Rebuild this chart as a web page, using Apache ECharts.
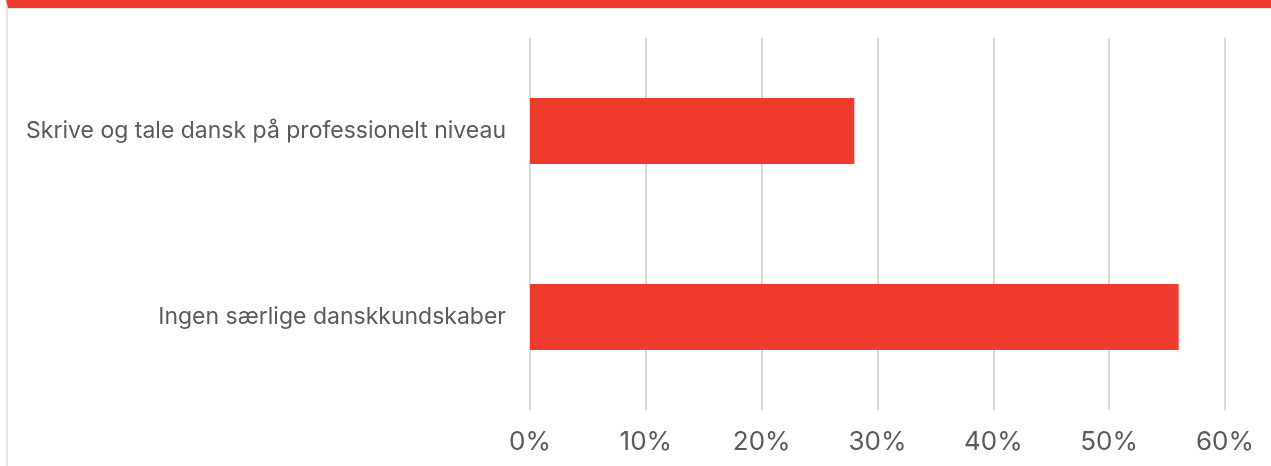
<!DOCTYPE html>
<html>
<head>
<meta charset="utf-8">
<script src="https://cdn.jsdelivr.net/npm/echarts@6/dist/echarts.min.js"></script>
<style>
  body { margin: 0; background: #fff; }
  #frame { position: absolute; left: 6px; top: 0; width: 1265px; height: 466px;
    border-top: 8px solid #ef3b2d; border-left: 2px solid #e3e3e3; box-sizing: border-box; }
  #frame:before { content: ""; position: absolute; left: 0; right: 0; top: 0; height: 1px; background: #e3e3e3; }
  #chart { position: absolute; left: 0; top: 0; width: 1271px; height: 466px; }
</style>
</head>
<body>
<div id="frame"></div>
<div id="chart"></div>
<script>
// kategorier og andele (%)
const categories = ["Skrive og tale dansk på professionelt niveau", "Ingen særlige danskkundskaber"];
const values = [28, 56];
const ticks = [0, 10, 20, 30, 40, 50, 60];

let myChart = echarts.init(document.getElementById("chart"));
myChart.setOption({
  animation: false,
  textStyle: { fontFamily: "Inter" },
  grid: { left: 530, right: 46, top: 38, bottom: 56 },
  xAxis: {
    type: "value",
    min: ticks[0],
    max: ticks[ticks.length - 1],
    interval: 10,
    axisLine: { show: false },
    axisTick: { show: false },
    splitLine: { lineStyle: { color: "#d9d9d9", width: 2 } },
    axisLabel: { color: "#5a5a5a", fontSize: 26, margin: 19, formatter: "{value}%" }
  },
  yAxis: {
    type: "category",
    inverse: true,
    data: categories,
    axisLine: { show: false },
    axisTick: { show: false },
    axisLabel: { color: "#5a5a5a", fontSize: 23, margin: 24 }
  },
  series: [{
    type: "bar",
    data: values,
    barWidth: 66,
    itemStyle: { color: "#ef3b2d" }
  }]
});
</script>
</body>
</html>
